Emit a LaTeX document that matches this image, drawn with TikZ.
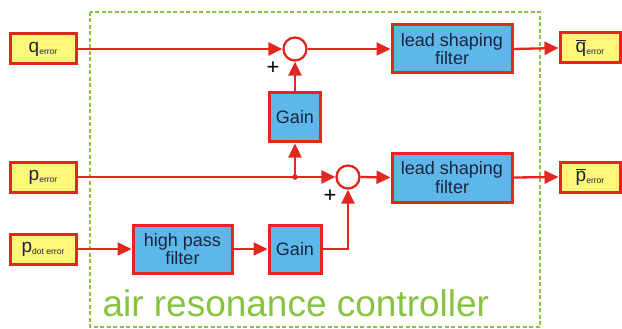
\documentclass[tikz,border=0pt]{standalone}
\usepackage{fontspec}
\setmainfont{Liberation Sans}
\usetikzlibrary{arrows.meta}
\definecolor{lred}{HTML}{E3261E}
\definecolor{bfill}{HTML}{5DB7E8}
\definecolor{yfill}{HTML}{FFF67A}
\definecolor{dgreen}{HTML}{86C440}
\definecolor{tnavy}{HTML}{1B2540}
\tikzset{
  sig/.style={draw=lred, line width=2.3pt, -{Triangle[length=14pt,width=13pt]}},
  blk/.style={draw=lred, line width=3pt, fill=bfill, text=tnavy, align=center,
     font=\fontsize{18}{18.5}\selectfont, inner sep=0pt},
  io/.style={draw=lred, line width=3pt, fill=yfill, text=tnavy, minimum width=66pt,
     minimum height=30pt, inner sep=0pt},
  sumj/.style={circle, draw=lred, line width=2.3pt, fill=white, minimum size=23pt, inner sep=0pt},
  plus/.style={font=\fontsize{22}{22}\selectfont, text=black}
}
\newcommand{\biglab}[1]{{\fontsize{19}{19}\selectfont #1}}
\newcommand{\sublab}[1]{{\fontsize{8.5}{8.5}\selectfont\raisebox{-2pt}{#1}}}
\newcommand{\ovlab}[1]{\setbox0\hbox{\biglab{#1}}\rlap{\rule[\dimexpr\ht0+1.5pt\relax]{\wd0}{1.3pt}}\box0}
\begin{document}
\begin{tikzpicture}[x=1pt,y=-1pt]
\useasboundingbox (0,0) rectangle (622,329);
% controller border
\draw[dgreen, line width=2.2pt, dash pattern=on 4pt off 2.5pt] (90,12) rectangle (540,327);
\node[anchor=base west, text=dgreen, font=\fontsize{37}{37}\selectfont] (title) at (99,316) {air resonance controller};
% inputs / outputs
\node[io] (qin) at (43,49) {\biglab{q}\sublab{error}};
\node[io] (pin) at (43,177) {\biglab{p}\sublab{error}};
\node[io] (pdin) at (43,249) {\biglab{p}\sublab{dot error}};
\node[io, minimum width=60pt] (qout) at (590,48) {\ovlab{q}\sublab{error}};
\node[io, minimum width=60pt] (pout) at (590,177) {\ovlab{p}\sublab{error}};
% blocks
\node[sumj] (s1) at (295,49) {};
\node[sumj] (s2) at (348,177) {};
\node[blk, minimum width=51pt, minimum height=49pt] (g1) at (295,117.5) {Gain};
\node[blk, minimum width=52pt, minimum height=48pt] (g2) at (295,249) {Gain};
\node[blk, minimum width=120pt, minimum height=48pt] (l1) at (452,49) {lead shaping\\filter};
\node[blk, minimum width=120pt, minimum height=49pt] (l2) at (452,177.5) {lead shaping\\filter};
\node[blk, minimum width=99pt, minimum height=48pt] (hp) at (182.5,249) {high pass\\filter};
\coordinate (br) at (295,177);
\coordinate (cr) at (348,249);
% connectors
\draw[sig] (qin.east) -- (s1.west);
\draw[sig] (g1.north) -- (s1.south);
\draw[sig] (s1.east) -- (l1.west);
\draw[sig] (l1.east) -- (qout.west);
\draw[sig] (pin.east) -- (s2.west);
\draw[sig] (br) -- (g1.south);
\fill[lred] (br) circle (2.8pt);
\draw[sig] (s2.east) -- (l2.west);
\draw[sig] (l2.east) -- (pout.west);
\draw[sig] (pdin.east) -- (hp.west);
\draw[sig] (hp.east) -- (g2.west);
\draw[sig] (g2.east) -- (cr) -- (s2.south);
% plus signs
\node[plus] (p1) at (273,68) {+};
\node[plus] (p2) at (330,196) {+};
\end{tikzpicture}
\end{document}
